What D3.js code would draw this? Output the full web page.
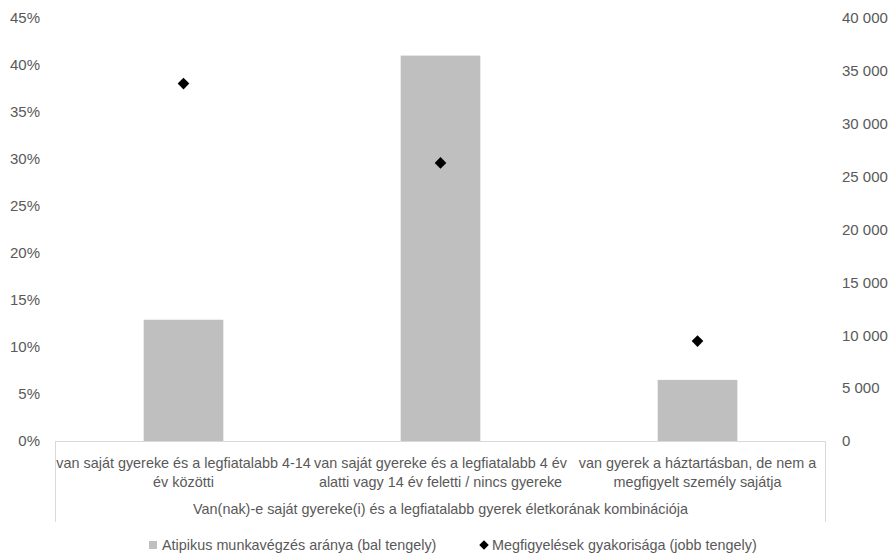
<!DOCTYPE html>
<html><head><meta charset="utf-8">
<script src="https://cdn.jsdelivr.net/npm/d3@7"></script>
<style>body{margin:0;background:#fff}svg{display:block}text{font-family:"Liberation Sans",Arial,sans-serif;fill:#595959}</style>
</head><body><svg id="c" width="893" height="555"></svg>
<script>
const categories = [
  "van saját gyereke és a legfiatalabb 4-14\név közötti",
  "van saját gyereke és a legfiatalabb 4 év\nalatti vagy 14 év feletti / nincs gyereke",
  "van gyerek a háztartásban, de nem a\nmegfigyelt személy sajátja"
];
const barValues = [0.129, 0.410, 0.065];
const pointValues = [33800, 26300, 9450];
const leftTicks = [0,0.05,0.10,0.15,0.20,0.25,0.30,0.35,0.40,0.45];
const rightTicks = [0,5000,10000,15000,20000,25000,30000,35000,40000];
const axisTitle = "Van(nak)-e saját gyereke(i) és a legfiatalabb gyerek életkorának kombinációja";
const legendLabels = ["Atipikus munkavégzés aránya (bal tengely)", "Megfigyelések gyakorisága (jobb tengely)"];

const svg = d3.select("#c");
const L = 55, R = 826, T = 18, B = 441;
const x = d3.scaleBand().domain(d3.range(categories.length)).range([L, R]).paddingInner(0.69).paddingOuter(0.345);
const yL = d3.scaleLinear().domain([0, 0.45]).range([B, T]);
const yR = d3.scaleLinear().domain([0, 40000]).range([B, T]);
const fs = 15, fs2 = 14.4;

const fmtP = d3.format(".0%");
svg.append("g").selectAll("text").data(leftTicks).join("text")
  .attr("x", 40).attr("y", d => yL(d)).attr("dy", "0.35em").attr("text-anchor", "end")
  .attr("font-size", fs).text(d => fmtP(d));
const fmtN = d => d3.format(",")(d).replace(/,/g, "\u00a0");
svg.append("g").selectAll("text").data(rightTicks).join("text")
  .attr("x", 842).attr("y", d => yR(d)).attr("dy", "0.35em").attr("text-anchor", "start")
  .attr("font-size", fs).text(fmtN);

svg.append("g").selectAll("rect").data(barValues).join("rect")
  .attr("x", (d,i) => x(i)).attr("width", x.bandwidth())
  .attr("y", d => yL(d)).attr("height", d => B - yL(d)).attr("fill", "#bfbfbf");

const ax = svg.append("g").attr("stroke", "#d9d9d9").attr("stroke-width", 1).attr("fill", "none");
ax.append("line").attr("x1", L).attr("x2", R).attr("y1", B + 0.5).attr("y2", B + 0.5);
ax.append("line").attr("x1", L + 0.5).attr("x2", L + 0.5).attr("y1", B).attr("y2", 522);
ax.append("line").attr("x1", R - 0.5).attr("x2", R - 0.5).attr("y1", B).attr("y2", 522);

const cx = i => x(i) + x.bandwidth() / 2;
const cl = svg.append("g");
categories.forEach((c, i) => {
  const t = cl.append("text").attr("text-anchor", "middle").attr("font-size", fs2);
  c.split("\n").forEach((ln, j) => t.append("tspan").attr("x", cx(i)).attr("y", 468 + j * 19).text(ln));
});
svg.append("text").attr("x", (L + R) / 2).attr("y", 514).attr("text-anchor", "middle").attr("font-size", fs2).text(axisTitle);

svg.append("g").selectAll("path").data(pointValues).join("path")
  .attr("transform", (d,i) => `translate(${cx(i)},${yR(d)}) rotate(45)`)
  .attr("d", d3.symbol().type(d3.symbolSquare).size(68)).attr("fill", "#000");

const lg = svg.append("g");
lg.append("rect").attr("x", 149).attr("y", 541).attr("width", 8).attr("height", 8).attr("fill", "#bfbfbf");
lg.append("text").attr("x", 162).attr("y", 550).attr("font-size", fs2).text(legendLabels[0]);
lg.append("path").attr("transform", "translate(484,545) rotate(45)").attr("d", d3.symbol().type(d3.symbolSquare).size(45)).attr("fill", "#000");
lg.append("text").attr("x", 492).attr("y", 550).attr("font-size", fs2).text(legendLabels[1]);
</script></body></html>
